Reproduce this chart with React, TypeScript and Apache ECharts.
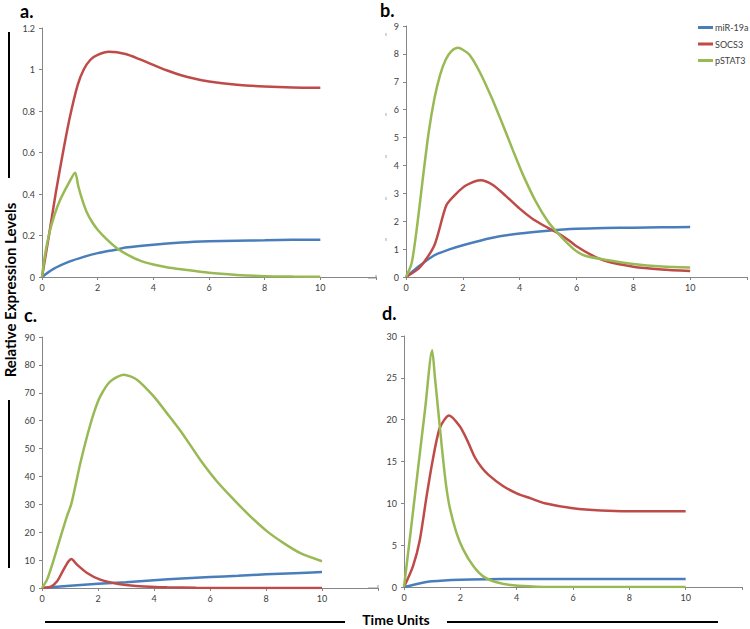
import React, { useEffect, useRef } from "react";
import * as echarts from "echarts";

// ---- Data ----
const seriesNames = ["miR-19a", "SOCS3", "pSTAT3"];
const xTicks = [0, 2, 4, 6, 8, 10];

// Panel a
const tBlueA = [0, 0.4, 1, 1.5, 2, 2.7, 3, 4, 5, 6, 7, 8, 9, 10];
const blueA = [0, 0.038, 0.075, 0.097, 0.115, 0.133, 0.142, 0.156, 0.166, 0.172, 0.175, 0.177, 0.179, 0.18];
const tRedA = [0, 0.25, 0.5, 0.77, 1, 1.28, 1.5, 1.74, 2, 2.4, 3, 3.5, 4, 4.5, 5, 5.5, 6, 7, 8, 9, 10];
const redA = [0, 0.2, 0.41, 0.612, 0.77, 0.925, 1.0, 1.047, 1.07, 1.085, 1.075, 1.05, 1.022, 0.995, 0.972, 0.955, 0.942, 0.927, 0.918, 0.913, 0.912];
const tGreenA = [0, 0.1, 0.26, 0.45, 0.65, 0.95, 1.19, 1.3, 1.45, 1.6, 1.8, 2.0, 2.3, 2.68, 3, 3.5, 4, 4.48, 5, 6, 7, 8, 9, 10];
const greenA = [0, 0.1, 0.21, 0.3, 0.371, 0.45, 0.503, 0.44, 0.37, 0.315, 0.265, 0.228, 0.185, 0.14, 0.113, 0.08, 0.06, 0.047, 0.037, 0.02, 0.01, 0.004, 0.002, 0.001];

// Panel b
const tBlueB = [0, 0.5, 1, 1.5, 2, 3, 4, 5, 6, 7, 8, 9, 10];
const blueB = [0, 0.42, 0.78, 0.98, 1.14, 1.4, 1.56, 1.66, 1.73, 1.76, 1.77, 1.78, 1.79];
const tRedB = [0, 0.5, 1, 1.42, 1.77, 2.12, 2.63, 3.06, 3.52, 4, 4.5, 5, 5.3, 5.75, 6, 6.5, 7, 8, 9, 10];
const redB = [0, 0.36, 1.14, 2.57, 2.99, 3.29, 3.47, 3.3, 2.9, 2.45, 2.05, 1.76, 1.6, 1.3, 1.1, 0.8, 0.58, 0.37, 0.27, 0.215];
const tGreenB = [0, 0.2, 0.4, 0.6, 0.8, 1.0, 1.2, 1.4, 1.6, 1.83, 2.0, 2.24, 2.59, 3, 3.41, 3.76, 4.11, 4.57, 5, 5.3, 5.74, 6, 6.3, 7, 8, 9, 10];
const greenB = [0, 0.5, 1.9, 3.6, 5.2, 6.4, 7.25, 7.8, 8.1, 8.22, 8.15, 7.96, 7.36, 6.46, 5.45, 4.55, 3.68, 2.7, 1.98, 1.62, 1.15, 0.92, 0.76, 0.62, 0.47, 0.38, 0.34];

// Panel c
const tBlueC = [0, 1, 2, 3, 4, 5, 6, 7, 8, 9, 10];
const blueC = [0, 0.8, 1.5, 2.1, 2.8, 3.4, 3.9, 4.4, 4.9, 5.3, 5.7];
const tRedC = [0, 0.3, 0.54, 0.77, 0.95, 1.05, 1.25, 1.61, 2.08, 2.68, 3.27, 3.87, 4.46, 5.5, 7, 10];
const redC = [0, 0.4, 2.4, 6.6, 9.6, 10.4, 8.4, 5.4, 3.0, 1.55, 0.84, 0.48, 0.24, 0.08, 0.02, 0];
const tGreenC = [0, 0.18, 0.42, 0.65, 0.89, 1.04, 1.19, 1.37, 1.61, 1.85, 2.08, 2.44, 2.92, 3.39, 3.99, 4.46, 5, 5.65, 6.25, 6.85, 7.44, 8.04, 8.63, 9.23, 10];
const greenC = [0, 3, 10.2, 17.9, 25.7, 29.9, 36.5, 44.8, 54.4, 62.7, 68.7, 74.1, 76.5, 74.7, 68.7, 62.7, 55.6, 46, 38.2, 31.7, 25.7, 20.3, 16.1, 12.5, 9.6];

// Panel d
const tBlueD = [0, 0.5, 1, 2, 3, 4, 6, 8, 10];
const blueD = [0, 0.4, 0.68, 0.87, 0.93, 0.95, 0.96, 0.96, 0.96];
const tRedD = [0, 0.32, 0.56, 0.8, 1.0, 1.27, 1.6, 1.98, 2.25, 2.5, 2.75, 3, 3.5, 4, 4.5, 5, 6, 7, 8.5, 10];
const redD = [0, 2.5, 5.6, 10.8, 14.8, 19, 20.5, 19.2, 17.5, 15.6, 14.3, 13.4, 12.1, 11.2, 10.6, 10.0, 9.4, 9.15, 9.05, 9.05];
const tGreenD = [0, 0.25, 0.5, 0.75, 1.0, 1.1, 1.2, 1.3, 1.4, 1.5, 1.63, 1.86, 2.1, 2.46, 2.81, 3.29, 3.88, 4.7, 6, 10];
const greenD = [0, 7, 14.2, 21.3, 28.3, 25, 21.6, 18.2, 14.9, 12.0, 9.4, 6.5, 4.5, 2.5, 1.27, 0.56, 0.2, 0.04, 0, 0];

const yMax = [1.2, 9, 90, 30];
const yInterval = [0.2, 1, 10, 5];
const panelLabels = ["a.", "b.", "c.", "d."];

const COLORS = ["#4A7EBB", "#BE4B48", "#98B954"];
const FONT = "Lato, 'Open Sans', sans-serif";

const zip = (t: number[], v: number[]) => t.map((x, i) => [x, v[i]]);

const panels = [
  [zip(tBlueA, blueA), zip(tRedA, redA), zip(tGreenA, greenA)],
  [zip(tBlueB, blueB), zip(tRedB, redB), zip(tGreenB, greenB)],
  [zip(tBlueC, blueC), zip(tRedC, redC), zip(tGreenC, greenC)],
  [zip(tBlueD, blueD), zip(tRedD, redD), zip(tGreenD, greenD)],
];

const grids = [
  { left: 42, top: 28, width: 334, height: 249 },
  { left: 406, top: 26, width: 342, height: 251 },
  { left: 42, top: 337, width: 336, height: 251 },
  { left: 404, top: 336, width: 338, height: 251 },
];
const labelPos = [
  [20, 2],
  [380, 1],
  [24, 306],
  [382, 304],
];

export default function App() {
  const ref = useRef<HTMLDivElement>(null);
  useEffect(() => {
    if (!ref.current) return;
    const chart = echarts.init(ref.current, undefined, { renderer: "svg" });
    const axisColor = "#868686";
    const labelStyle = { fontSize: 9, color: "#404040", fontFamily: FONT };

    const xAxis = grids.map((_, i) => ({
      type: "value",
      gridIndex: i,
      min: 0,
      max: 12,
      interval: 2,
      axisLine: { show: true, onZero: false, lineStyle: { color: axisColor, width: 1 } },
      axisTick: { show: true, length: 3, lineStyle: { color: axisColor } },
      axisLabel: {
        ...labelStyle,
        margin: 6,
        formatter: (v: number) => (xTicks.includes(v) ? String(v) : ""),
      },
      splitLine: { show: false },
    }));
    const yAxis = grids.map((_, i) => ({
      type: "value",
      gridIndex: i,
      min: 0,
      max: yMax[i],
      interval: yInterval[i],
      axisLine: { show: true, lineStyle: { color: axisColor, width: 1 } },
      axisTick: { show: true, length: 3, lineStyle: { color: axisColor } },
      axisLabel: { ...labelStyle, margin: 7 },
      splitLine: { show: false },
    }));

    const series: any[] = [];
    panels.forEach((p, i) => {
      p.forEach((data, j) => {
        series.push({
          type: "line",
          name: seriesNames[j],
          xAxisIndex: i,
          yAxisIndex: i,
          data,
          smooth: 0.25,
          showSymbol: false,
          symbol: "none",
          lineStyle: { color: COLORS[j], width: 2.5 },
          itemStyle: { color: COLORS[j] },
          z: 2 + j,
        });
      });
    });

    const graphic: any[] = [];
    panelLabels.forEach((t, i) => {
      graphic.push({
        type: "text",
        left: labelPos[i][0],
        top: labelPos[i][1],
        style: { text: t, font: `bold 18px ${FONT}`, fill: "#000" },
      });
    });
    // y axis title with bars
    graphic.push({
      type: "text",
      x: 10,
      y: 290,
      rotation: Math.PI / 2,
      style: {
        text: "Relative Expression Levels",
        font: `bold 15px ${FONT}`,
        fill: "#000",
        textAlign: "center",
        textVerticalAlign: "middle",
      },
    });
    graphic.push({ type: "line", shape: { x1: 9, y1: 32, x2: 9, y2: 178 }, style: { stroke: "#000", lineWidth: 2 } });
    graphic.push({ type: "line", shape: { x1: 9, y1: 400, x2: 9, y2: 568 }, style: { stroke: "#000", lineWidth: 2 } });
    // x axis title with bars
    graphic.push({
      type: "text",
      x: 396,
      y: 619,
      style: {
        text: "Time Units",
        font: `bold 14px ${FONT}`,
        fill: "#000",
        textAlign: "center",
        textVerticalAlign: "middle",
      },
    });
    graphic.push({ type: "line", shape: { x1: 45, y1: 622, x2: 345, y2: 622 }, style: { stroke: "#000", lineWidth: 2 } });
    graphic.push({ type: "line", shape: { x1: 447, y1: 622, x2: 718, y2: 622 }, style: { stroke: "#000", lineWidth: 2 } });
    // small gray remnants at the left of panels b and d
    graphic.push({ type: "polyline", shape: { points: [[368, 278], [376, 278], [376, 275]] }, style: { stroke: "#999", lineWidth: 1, fill: null } });
    graphic.push({ type: "polyline", shape: { points: [[368, 588], [378, 588], [378, 585]] }, style: { stroke: "#999", lineWidth: 1, fill: null } });
    [33, 113, 155, 197, 238].forEach((y) => {
      graphic.push({ type: "line", shape: { x1: 386, y1: y, x2: 386, y2: y + 3 }, style: { stroke: "#aaa", lineWidth: 1 } });
    });

    chart.setOption({
      animation: false,
      backgroundColor: "#fff",
      grid: grids.map((g) => ({ ...g, containLabel: false })),
      xAxis,
      yAxis,
      legend: {
        data: seriesNames,
        orient: "vertical",
        left: 693,
        top: 18,
        icon: "rect",
        itemWidth: 15,
        itemHeight: 3,
        itemGap: 7.5,
        textStyle: { fontSize: 9, color: "#404040", fontFamily: FONT, padding: [0, 0, 0, -3] },
      },
      series,
      graphic,
    });
    return () => chart.dispose();
  }, []);
  return (
    <div
      ref={ref}
      style={{ position: "absolute", left: 0, top: 0, width: 750, height: 629 }}
    />
  );
}
